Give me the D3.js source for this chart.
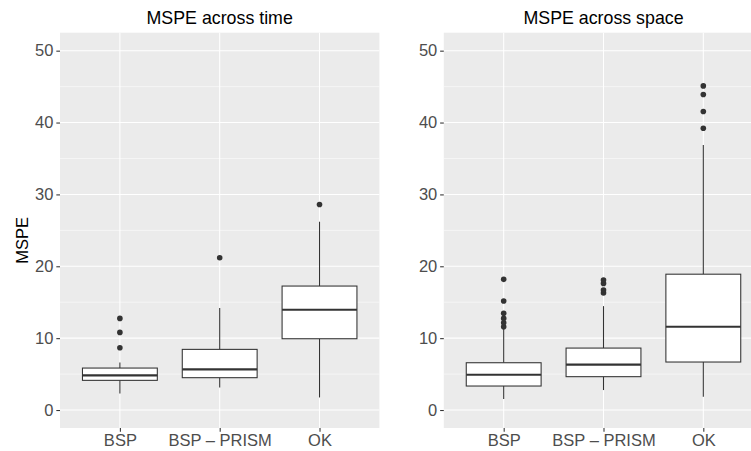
<!DOCTYPE html>
<html><head><meta charset="utf-8">
<script src="https://cdn.jsdelivr.net/npm/d3@7"></script>
<style>body{margin:0;background:#fff}svg{display:block}text{font-family:"Liberation Sans",Arial,sans-serif}</style>
</head><body><svg id="c" width="751" height="451"></svg>
<script>
const categories = ["BSP", "BSP \u2013 PRISM", "OK"];
const yTicks = [0, 10, 20, 30, 40, 50];
const panelTitles = ["MSPE across time", "MSPE across space"];
// time panel stats
const timeLow = [2.3, 3.15, 1.75];
const timeQ1 = [4.13, 4.5, 9.92];
const timeMed = [4.82, 5.66, 13.95];
const timeQ3 = [5.84, 8.44, 17.25];
const timeHigh = [6.63, 14.19, 26.2];
const timeOut = [[8.67, 10.8, 12.75], [21.18], [28.6]];
// space panel stats
const spaceLow = [1.53, 2.78, 1.85];
const spaceQ1 = [3.34, 4.64, 6.68];
const spaceMed = [4.91, 6.31, 11.59];
const spaceQ3 = [6.58, 8.62, 18.9];
const spaceHigh = [11.3, 14.46, 36.86];
const spaceOut = [[11.59, 12.14, 12.75, 13.45, 15.16, 18.18], [16.3, 16.69, 17.62, 18.08], [39.2, 41.54, 43.9, 45.1]];

const panels = [
  {title: panelTitles[0], low: timeLow, q1: timeQ1, med: timeMed, q3: timeQ3, high: timeHigh, out: timeOut, x0: 60},
  {title: panelTitles[1], low: spaceLow, q1: spaceQ1, med: spaceMed, q3: spaceQ3, high: spaceHigh, out: spaceOut, x0: 443.8}
];
const pw = 319.4, pTop = 32.7, pBottom = 428;
const svg = d3.select("#c");
const y = d3.scaleLinear().domain([-2.5, 52.5]).range([pBottom, pTop]);
const dark = "#333333";
const axisFont = "16.5px";

panels.forEach((p) => {
  const xp = d3.scalePoint().domain(categories).range([p.x0 + pw * 0.6 / 3.2, p.x0 + pw * 2.6 / 3.2]);
  const step = pw / 3.2;
  const g = svg.append("g");
  g.append("rect").attr("x", p.x0).attr("y", pTop).attr("width", pw).attr("height", pBottom - pTop).attr("fill", "#EBEBEB");
  const minor = d3.range(5, 52, 10);
  g.selectAll(".mn").data(minor).join("line").attr("x1", p.x0).attr("x2", p.x0 + pw)
    .attr("y1", d => y(d)).attr("y2", d => y(d)).attr("stroke", "#fff").attr("stroke-width", 0.53);
  g.selectAll(".mj").data(yTicks).join("line").attr("x1", p.x0).attr("x2", p.x0 + pw)
    .attr("y1", d => y(d)).attr("y2", d => y(d)).attr("stroke", "#fff").attr("stroke-width", 1.07);
  g.selectAll(".vx").data(categories).join("line").attr("x1", d => xp(d)).attr("x2", d => xp(d))
    .attr("y1", pTop).attr("y2", pBottom).attr("stroke", "#fff").attr("stroke-width", 1.07);

  const ya = svg.append("g").attr("transform", `translate(${p.x0},0)`)
    .call(d3.axisLeft(y).tickValues(yTicks).tickSize(3.67).tickPadding(2.9));
  ya.select(".domain").remove();
  ya.selectAll(".tick line").attr("stroke", dark).attr("stroke-width", 1.07);
  ya.selectAll(".tick text").attr("fill", "#4D4D4D").attr("font-size", axisFont).attr("font-family", "Liberation Sans, Arial, sans-serif");
  const xa = svg.append("g").attr("transform", `translate(0,${pBottom})`)
    .call(d3.axisBottom(xp).tickSize(3.67).tickPadding(2.9));
  xa.select(".domain").remove();
  xa.selectAll(".tick line").attr("stroke", dark).attr("stroke-width", 1.07);
  xa.selectAll(".tick text").attr("fill", "#4D4D4D").attr("font-size", axisFont).attr("font-family", "Liberation Sans, Arial, sans-serif");

  const bw = step * 0.75;
  categories.forEach((c, i) => {
    const cx = xp(c);
    g.append("line").attr("x1", cx).attr("x2", cx).attr("y1", y(p.q3[i])).attr("y2", y(p.high[i])).attr("stroke", dark).attr("stroke-width", 1.07);
    g.append("line").attr("x1", cx).attr("x2", cx).attr("y1", y(p.q1[i])).attr("y2", y(p.low[i])).attr("stroke", dark).attr("stroke-width", 1.07);
    g.append("rect").attr("x", cx - bw / 2).attr("width", bw).attr("y", y(p.q3[i])).attr("height", y(p.q1[i]) - y(p.q3[i]))
      .attr("fill", "#fff").attr("stroke", dark).attr("stroke-width", 1.07);
    g.append("line").attr("x1", cx - bw / 2).attr("x2", cx + bw / 2).attr("y1", y(p.med[i])).attr("y2", y(p.med[i])).attr("stroke", dark).attr("stroke-width", 2.13);
    g.selectAll(null).data(p.out[i]).join("circle").attr("cx", cx).attr("cy", d => y(d)).attr("r", 2.8).attr("fill", dark);
  });

  svg.append("text").attr("x", p.x0 + pw / 2).attr("y", 24).attr("text-anchor", "middle")
    .attr("font-size", "17.8px").attr("fill", "#000").text(p.title);
});

svg.append("text").attr("transform", `translate(28,${(pTop + pBottom) / 2 + 10}) rotate(-90)`)
  .attr("text-anchor", "middle").attr("font-size", "16.5px").attr("fill", "#000").text("MSPE");
</script></body></html>
